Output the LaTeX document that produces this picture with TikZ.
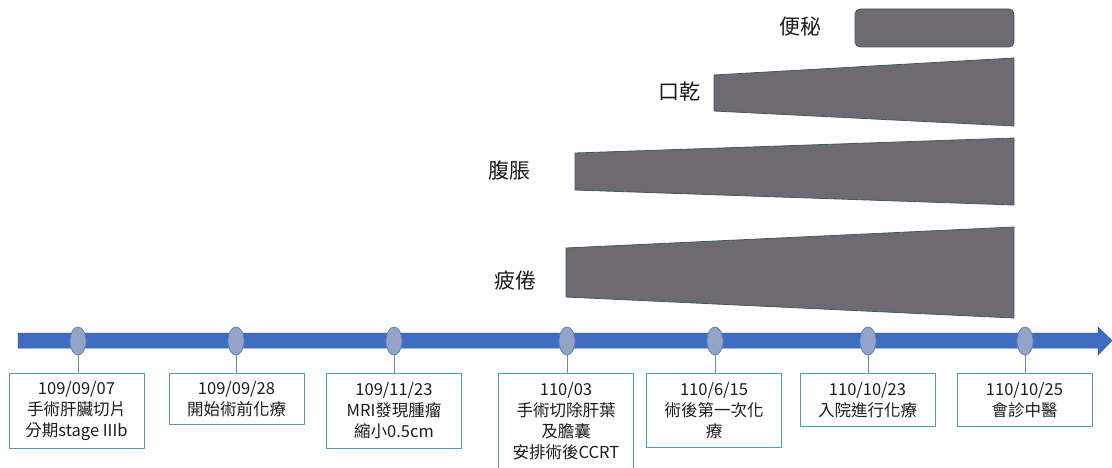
\documentclass[tikz,border=0pt]{standalone}
\usepackage{fontspec}
\setmainfont{Noto Sans CJK TC}
\usetikzlibrary{shapes.geometric}
\definecolor{barblue}{HTML}{3F6DC2}
\definecolor{baredge}{HTML}{34589E}
\definecolor{dotfill}{HTML}{93A4C6}
\definecolor{dotedge}{HTML}{5A7FBE}
\definecolor{boxedge}{HTML}{4A9CC2}
\definecolor{connline}{HTML}{5E93B4}
\definecolor{symfill}{HTML}{6F6A70}
\definecolor{symedge}{HTML}{3C5A6C}
\definecolor{txt}{HTML}{1C1C1C}
\tikzset{
  dot/.style={ellipse, minimum width=16pt, minimum height=28pt, inner sep=0pt,
    fill=dotfill, draw=dotedge, line width=0.8pt},
  evbox/.style={draw=boxedge, fill=white, line width=1pt, anchor=north,
    minimum width=135pt, inner sep=2pt, align=center, text=txt,
    font=\fontsize{16.5}{21}\selectfont},
  conn/.style={draw=connline, line width=1pt},
  sym/.style={fill=symfill, draw=symedge, line width=0.8pt},
  symlabel/.style={text=txt, font=\fontsize{21}{24}\selectfont, inner sep=0pt}
}
\begin{document}
\begin{tikzpicture}[x=1pt,y=-1pt]
\useasboundingbox[fill=white] (0,0) rectangle (1112,468);

% symptom shapes
\draw[sym, rounded corners=5pt] (855,9) rectangle (1014,47);
\draw[sym] (714,75) -- (1014,58) -- (1014,126) -- (714,111) -- cycle;
\draw[sym] (575,153) -- (1014,138) -- (1014,205) -- (575,190) -- cycle;
\draw[sym] (566,248) -- (1014,227) -- (1014,318) -- (566,297) -- cycle;

\node[symlabel] (l1) at (800,27) {便秘};
\node[symlabel] (l2) at (679,92) {口乾};
\node[symlabel] (l3) at (509,171) {腹脹};
\node[symlabel] (l4) at (515,280) {疲倦};

% timeline bar
\fill[barblue, draw=baredge, line width=0.5pt] (18,333) -- (1098,333) -- (1098,327) -- (1112,340.5)
  -- (1098,355) -- (1098,348) -- (18,348) -- cycle;

% event boxes
\node[evbox, minimum height=75pt] (b1) at (76.5,373) {109/09/07\\手術肝臟切片\\分期stage IIIb};
\node[evbox, minimum height=51pt] (b2) at (236.5,373) {109/09/28\\開始術前化療};
\node[evbox, minimum height=75pt] (b3) at (394,373) {109/11/23\\MRI發現腫瘤\\縮小0.5cm};
\node[evbox, minimum height=96pt] (b4) at (566,373) {110/03\\手術切除肝葉\\及膽囊\\安排術後CCRT};
\node[evbox, minimum height=74pt] (b5) at (714,373) {110/6/15\\術後第一次化\\療};
\node[evbox, minimum height=53pt] (b6) at (867.5,373) {110/10/23\\入院進行化療};
\node[evbox, minimum height=53pt] (b7) at (1024.5,373) {110/10/25\\會診中醫};

% markers
\node[dot] (e1) at (78,341) {};
\node[dot] (e2) at (236,341) {};
\node[dot] (e3) at (394,341) {};
\node[dot] (e4) at (567,341) {};
\node[dot] (e5) at (715,341) {};
\node[dot] (e6) at (868,341) {};
\node[dot] (e7) at (1025,341) {};

\foreach \i in {1,...,7}{
  \draw[conn] (e\i.south) -- (e\i.south |- b\i.north);
}
\end{tikzpicture}
\end{document}
